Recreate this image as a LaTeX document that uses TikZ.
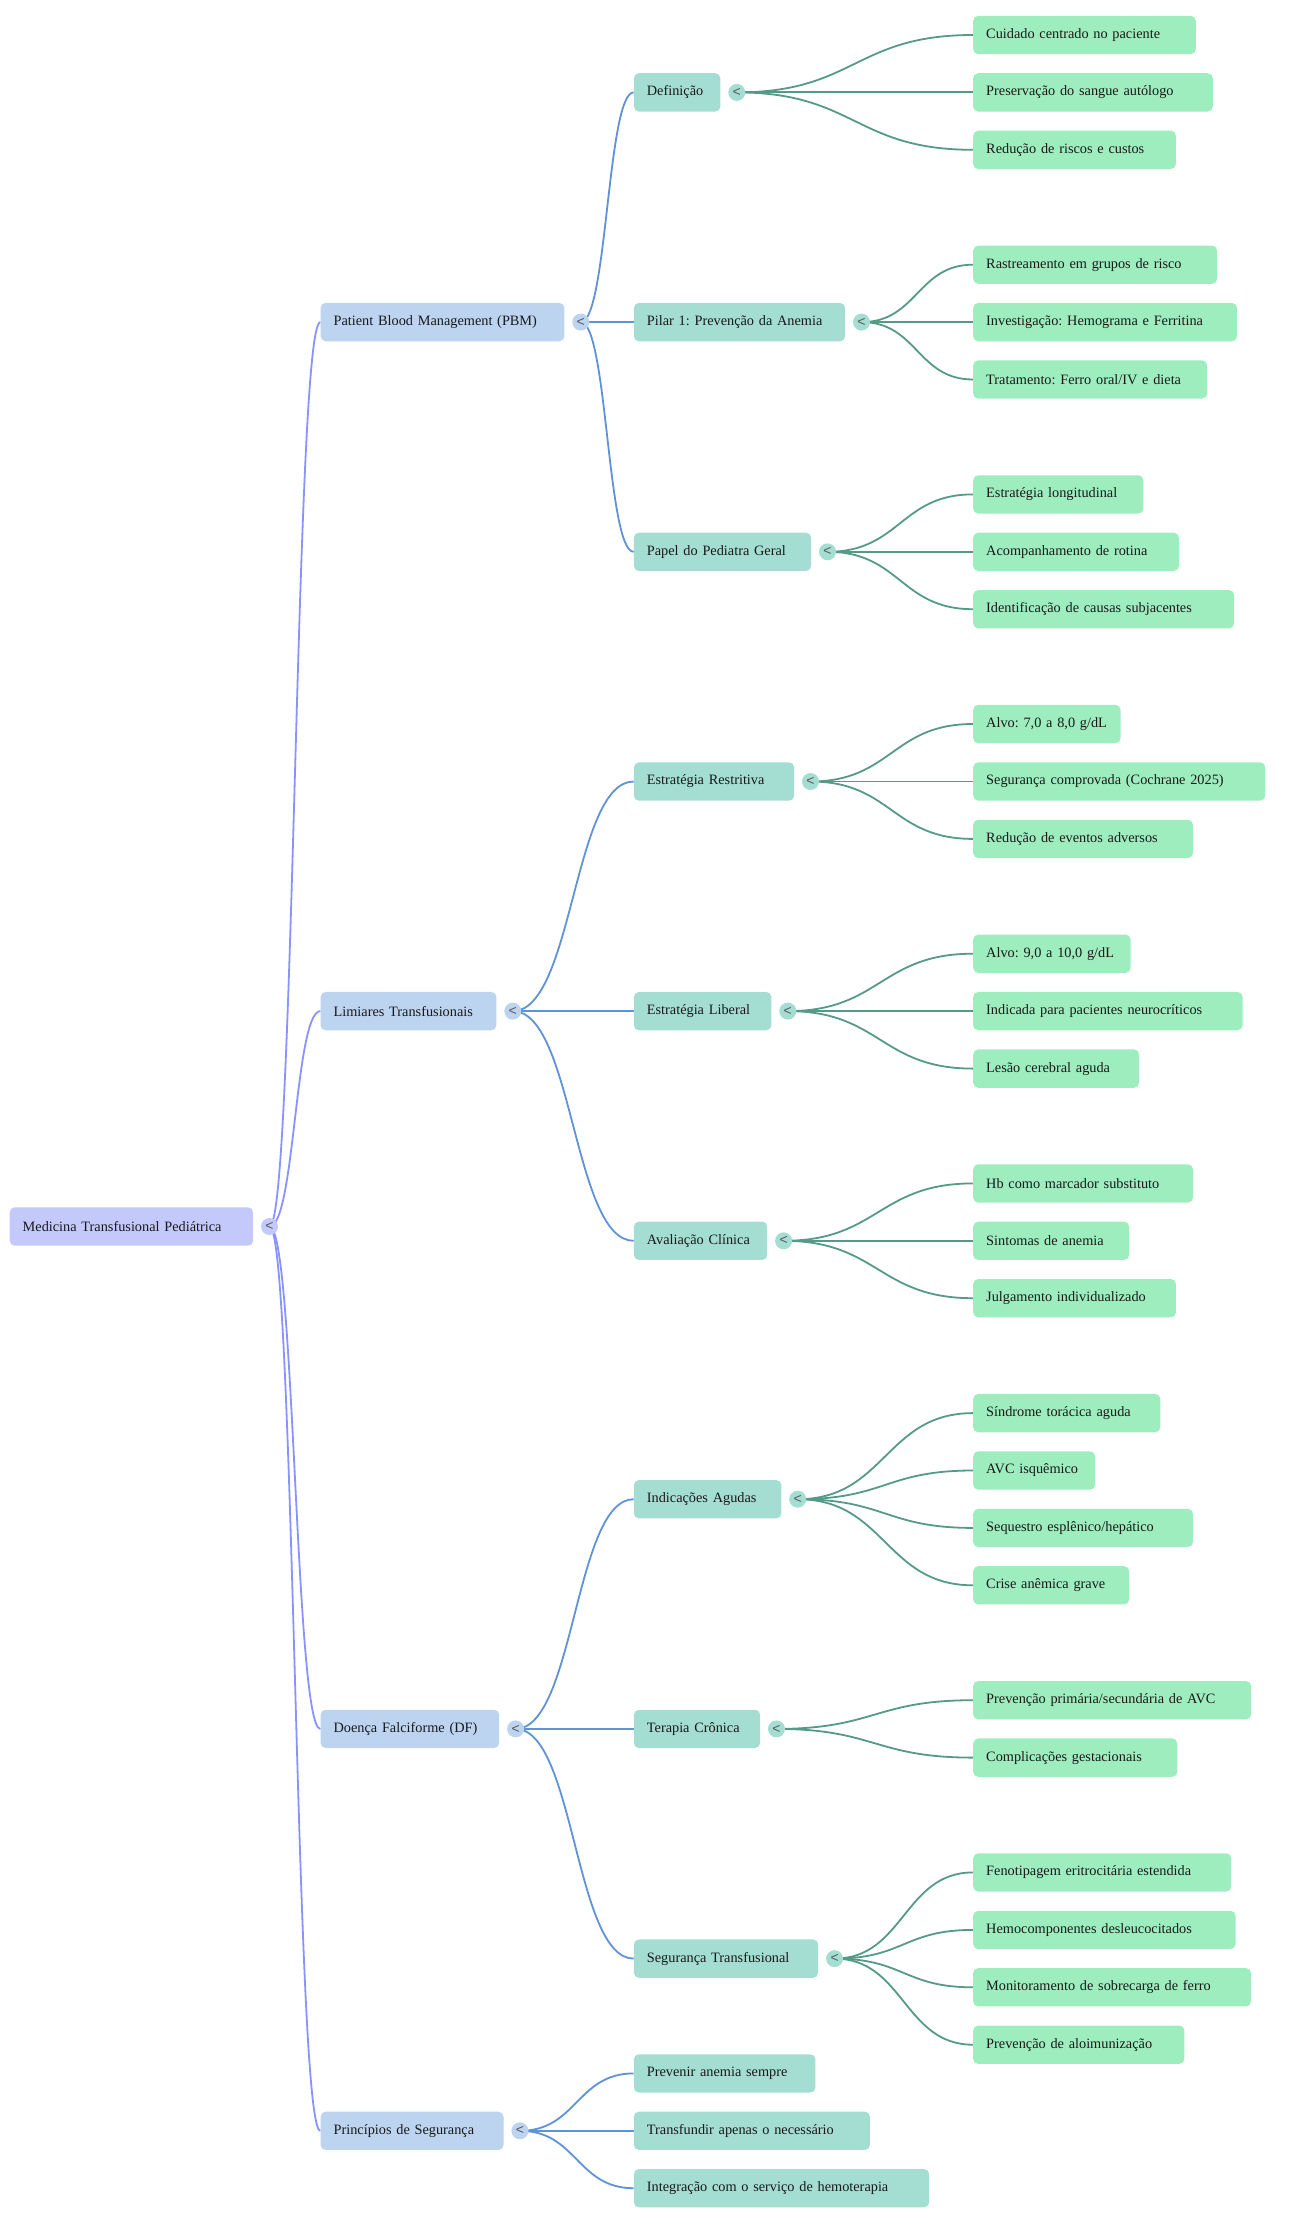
\documentclass[tikz,border=0pt]{standalone}
\usepackage{fontspec}
\setmainfont{Liberation Serif}
\newfontfamily\togglefont{Liberation Sans}
\usetikzlibrary{positioning, calc, backgrounds}

\definecolor{rootfill}{RGB}{196,201,252}
\definecolor{mainfill}{RGB}{188,212,240}
\definecolor{subfill}{RGB}{164,221,210}
\definecolor{leaffill}{RGB}{158,237,190}
\definecolor{rootedge}{RGB}{138,146,255}
\definecolor{mainedge}{RGB}{96,146,216}
\definecolor{subedge}{RGB}{84,154,134}

\begin{document}
\begin{tikzpicture}[x=1pt, y=-1pt, font=\fontsize{14.3pt}{17pt}\selectfont\frenchspacing]
    \tikzstyle{box} = [rectangle, rounded corners=5pt, minimum height=38.3pt,
        inner xsep=13pt, inner ysep=0pt, anchor=west, align=left, text=black!90]
    \tikzstyle{rootbox} = [box, fill=rootfill]
    \tikzstyle{mainbox} = [box, fill=mainfill]
    \tikzstyle{subbox} = [box, fill=subfill]
    \tikzstyle{leafbox} = [box, fill=leaffill]
    \tikzstyle{toggle} = [circle, minimum size=17pt, inner sep=0pt, text=black!65,
        font=\togglefont\fontsize{14pt}{14pt}\selectfont]
    \tikzstyle{bump} = [to path={.. controls ($(\tikztostart)!0.5!(\tikztostart -| \tikztotarget)$)
        and ($(\tikztotarget)!0.5!(\tikztotarget -| \tikztostart)$) .. (\tikztotarget)}]
    \tikzstyle{rootline} = [draw=rootedge, line width=1.8pt, bump]
    \tikzstyle{mainline} = [draw=mainedge, line width=1.8pt, bump]
    \tikzstyle{subline} = [draw=subedge, line width=1.8pt, bump]

    \useasboundingbox (0,-1) rectangle (1300,2223);

    % root
    \node [rootbox, text width=217.4pt] (med) at (9.5,1225.5) {Medicina Transfusional Pediátrica};
    \node [toggle, fill=rootfill, right=7.5pt of med] (tmed) {<};

    % first level
    \node [mainbox, text width=217.8pt] (pbm) at (320.4,321.1) {Patient Blood Management (PBM)};
    \node [mainbox, text width=149.8pt] (lim) at (320.4,1010.1) {Limiares Transfusionais};
    \node [mainbox, text width=152.6pt] (df) at (320.4,1727.9) {Doença Falciforme (DF)};
    \node [mainbox, text width=156.9pt] (princ) at (320.4,2129.8) {Princípios de Segurança};
    \node [toggle, fill=mainfill, right=7.5pt of pbm] (tpbm) {<};
    \node [toggle, fill=mainfill, right=7.5pt of lim] (tlim) {<};
    \node [toggle, fill=mainfill, right=7.5pt of df] (tdf) {<};
    \node [toggle, fill=mainfill, right=7.5pt of princ] (tprinc) {<};

    % second level
    \node [subbox, text width=60.5pt] (defi) at (633.7,91.4) {Definição};
    \node [subbox, text width=185.2pt] (pilar) at (633.7,321.1) {Pilar 1: Prevenção da Anemia};
    \node [subbox, text width=151.2pt] (papel) at (633.7,550.8) {Papel do Pediatra Geral};
    \node [subbox, text width=134.2pt] (restr) at (633.7,780.5) {Estratégia Restritiva};
    \node [subbox, text width=111.5pt] (liber) at (633.7,1010.1) {Estratégia Liberal};
    \node [subbox, text width=107.3pt] (aval) at (633.7,1239.8) {Avaliação Clínica};
    \node [subbox, text width=121.4pt] (agudas) at (633.7,1498.2) {Indicações Agudas};
    \node [subbox, text width=100.2pt] (cronica) at (633.7,1727.9) {Terapia Crônica};
    \node [subbox, text width=158.3pt] (transf) at (633.7,1957.6) {Segurança Transfusional};
    \node [subbox, text width=155.5pt] (prev) at (633.7,2072.4) {Prevenir anemia sempre};
    \node [subbox, text width=210pt] (necess) at (633.7,2129.8) {Transfundir apenas o necessário};
    \node [subbox, text width=269.2pt] (integ) at (633.7,2187.2) {Integração com o serviço de hemoterapia};
    \node [toggle, fill=subfill, right=7.5pt of defi] (tdefi) {<};
    \node [toggle, fill=subfill, right=7.5pt of pilar] (tpilar) {<};
    \node [toggle, fill=subfill, right=7.5pt of papel] (tpapel) {<};
    \node [toggle, fill=subfill, right=7.5pt of restr] (trestr) {<};
    \node [toggle, fill=subfill, right=7.5pt of liber] (tliber) {<};
    \node [toggle, fill=subfill, right=7.5pt of aval] (taval) {<};
    \node [toggle, fill=subfill, right=7.5pt of agudas] (tagudas) {<};
    \node [toggle, fill=subfill, right=7.5pt of cronica] (tcronica) {<};
    \node [toggle, fill=subfill, right=7.5pt of transf] (ttransf) {<};

    % leaves
    \node [leafbox, text width=196.6pt] (cuid) at (973,34.0) {Cuidado centrado no paciente};
    \node [leafbox, text width=213.6pt] (preserv) at (973,91.4) {Preservação do sangue autólogo};
    \node [leafbox, text width=176.7pt] (reduc) at (973,148.8) {Redução de riscos e custos};
    \node [leafbox, text width=217.8pt] (rastr) at (973,263.7) {Rastreamento em grupos de risco};
    \node [leafbox, text width=237.7pt] (invest) at (973,321.1) {Investigação: Hemograma e Ferritina};
    \node [leafbox, text width=207.9pt] (trat) at (973,378.5) {Tratamento: Ferro oral/IV e dieta};
    \node [leafbox, text width=144.1pt] (longit) at (973,493.4) {Estratégia longitudinal};
    \node [leafbox, text width=179.6pt] (acomp) at (973,550.8) {Acompanhamento de rotina};
    \node [leafbox, text width=234.9pt] (ident) at (973,608.2) {Identificação de causas subjacentes};
    \node [leafbox, text width=121.4pt] (alvoA) at (973,723.0) {Alvo: 7,0 a 8,0 g/dL};
    \node [leafbox, text width=266pt] (segcomp) at (973,780.5) {Segurança comprovada (Cochrane 2025)};
    \node [leafbox, text width=193.7pt] (eventos) at (973,837.9) {Redução de eventos adversos};
    \node [leafbox, text width=131.4pt] (alvoB) at (973,952.7) {Alvo: 9,0 a 10,0 g/dL};
    \node [leafbox, text width=243.4pt] (neuro) at (973,1010.1) {Indicada para pacientes neurocríticos};
    \node [leafbox, text width=139.9pt] (lesao) at (973,1067.6) {Lesão cerebral aguda};
    \node [leafbox, text width=193.7pt] (hb) at (973,1182.4) {Hb como marcador substituto};
    \node [leafbox, text width=129.9pt] (sintomas) at (973,1239.8) {Sintomas de anemia};
    \node [leafbox, text width=176.7pt] (julg) at (973,1297.2) {Julgamento individualizado};
    \node [leafbox, text width=161.1pt] (sta) at (973,1412.1) {Síndrome torácica aguda};
    \node [leafbox, text width=95.9pt] (avc) at (973,1469.5) {AVC isquêmico};
    \node [leafbox, text width=193.7pt] (sequestro) at (973,1526.9) {Sequestro esplênico/hepático};
    \node [leafbox, text width=129.9pt] (crise) at (973,1584.3) {Crise anêmica grave};
    \node [leafbox, text width=251.9pt] (avcprev) at (973,1699.2) {Prevenção primária/secundária de AVC};
    \node [leafbox, text width=178.1pt] (gest) at (973,1756.6) {Complicações gestacionais};
    \node [leafbox, text width=232pt] (fenot) at (973,1871.4) {Fenotipagem eritrocitária estendida};
    \node [leafbox, text width=236.3pt] (desleuc) at (973,1928.9) {Hemocomponentes desleucocitados};
    \node [leafbox, text width=251.9pt] (ferro) at (973,1986.3) {Monitoramento de sobrecarga de ferro};
    \node [leafbox, text width=185.2pt] (aloim) at (973,2043.7) {Prevenção de aloimunização};

    \begin{scope}[on background layer]
    % root links
    \path [rootline] (tmed.center) to (pbm.west);
    \path [rootline] (tmed.center) to (lim.west);
    \path [rootline] (tmed.center) to (df.west);
    \path [rootline] (tmed.center) to (princ.west);

    % first level links
    \path [mainline] (tpbm.center) to (defi.west);
    \path [mainline] (tpbm.center) to (pilar.west);
    \path [mainline] (tpbm.center) to (papel.west);
    \path [mainline] (tlim.center) to (restr.west);
    \path [mainline] (tlim.center) to (liber.west);
    \path [mainline] (tlim.center) to (aval.west);
    \path [mainline] (tdf.center) to (agudas.west);
    \path [mainline] (tdf.center) to (cronica.west);
    \path [mainline] (tdf.center) to (transf.west);
    \path [mainline] (tprinc.center) to (prev.west);
    \path [mainline] (tprinc.center) to (necess.west);
    \path [mainline] (tprinc.center) to (integ.west);

    % second level links
    \path [subline] (tdefi.center) to (cuid.west);
    \path [subline] (tdefi.center) to (preserv.west);
    \path [subline] (tdefi.center) to (reduc.west);
    \path [subline] (tpilar.center) to (rastr.west);
    \path [subline] (tpilar.center) to (invest.west);
    \path [subline] (tpilar.center) to (trat.west);
    \path [subline] (tpapel.center) to (longit.west);
    \path [subline] (tpapel.center) to (acomp.west);
    \path [subline] (tpapel.center) to (ident.west);
    \path [subline] (trestr.center) to (alvoA.west);
    \path [subline] (trestr.center) to (segcomp.west);
    \path [subline] (trestr.center) to (eventos.west);
    \path [subline] (tliber.center) to (alvoB.west);
    \path [subline] (tliber.center) to (neuro.west);
    \path [subline] (tliber.center) to (lesao.west);
    \path [subline] (taval.center) to (hb.west);
    \path [subline] (taval.center) to (sintomas.west);
    \path [subline] (taval.center) to (julg.west);
    \path [subline] (tagudas.center) to (sta.west);
    \path [subline] (tagudas.center) to (avc.west);
    \path [subline] (tagudas.center) to (sequestro.west);
    \path [subline] (tagudas.center) to (crise.west);
    \path [subline] (tcronica.center) to (avcprev.west);
    \path [subline] (tcronica.center) to (gest.west);
    \path [subline] (ttransf.center) to (fenot.west);
    \path [subline] (ttransf.center) to (desleuc.west);
    \path [subline] (ttransf.center) to (ferro.west);
    \path [subline] (ttransf.center) to (aloim.west);
    \end{scope}
\end{tikzpicture}
\end{document}
